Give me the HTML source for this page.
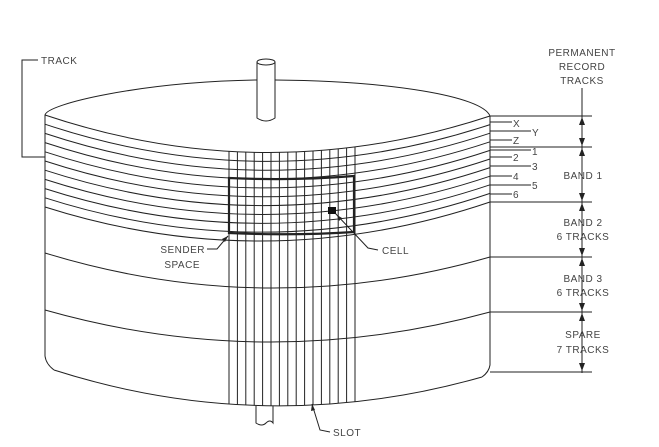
<!DOCTYPE html>
<html><head><meta charset="utf-8"><style>
html,body{margin:0;padding:0;background:#fff;}
svg{display:block;}
text{font-family:"Liberation Sans",sans-serif;font-size:10px;fill:#444;letter-spacing:0.5px;}
</style></head><body>
<svg width="659" height="447" viewBox="0 0 659 447" xmlns="http://www.w3.org/2000/svg">
<defs>
<clipPath id="front"><path d="M45,115 Q267,189.5 490,116 L490,365 Q489,372 482,377 Q267,438 54,370 Q46,364 45,356 Z"/></clipPath>
</defs>
<g fill="none" stroke="#222" stroke-width="1">
<path d="M45,115 C47,104 140,82 257,80 M275,80 C390,81 482,96 490,116"/>
<path d="M45,115 L45,356 Q46,364 54,370"/>
<path d="M490,116 L490,365 Q489,372 482,377"/>
<path d="M54,370 Q267,438 482,377"/>
<path d="M45,115 Q267,189.5 490,116"/>
<path d="M45,124.2 Q267,198.3 490,124.6"/>
<path d="M45,133.4 Q267,207.1 490,133.2"/>
<path d="M45,142.6 Q267,215.9 490,141.8"/>
<path d="M45,151.8 Q267,224.7 490,150.4"/>
<path d="M45,161 Q267,233.5 490,159"/>
<path d="M45,170.2 Q267,242.3 490,167.6"/>
<path d="M45,179.4 Q267,251.1 490,176.2"/>
<path d="M45,188.6 Q267,259.9 490,184.8"/>
<path d="M45,197.8 Q267,268.7 490,193.4"/>
<path d="M45,207 Q267,277.5 490,202"/>
<path d="M45,253 Q267,321 490,257"/>
<path d="M45,310 Q267,373 490,312"/>
<g clip-path="url(#front)">
<path d="M229,140V420 M237.4,140V420 M245.8,140V420 M254.2,140V420 M262.6,140V420 M271,140V420 M279.4,140V420 M287.8,140V420 M296.2,140V420 M304.6,140V420 M313,140V420 M321.4,140V420 M329.8,140V420 M338.2,140V420 M346.6,140V420 M355,140V420"/>
</g>
<path d="M229,178 Q292,181 354,176 L354,232 Q292,236 229,233 Z" stroke-width="2.2"/>
<path d="M257,62 L257,118 Q266,124 275,118 L275,62" fill="#fff"/>
<ellipse cx="266" cy="62" rx="9" ry="3" fill="#fff"/>
<path d="M256,406 L256,423 Q262,427 266,423 Q270,419 273,423 L273,406"/>
<path d="M38,60 H22 V157 H45"/>
<path d="M490,122H512 M490,131H531 M490,140H512 M490,150H531 M490,157H512 M490,166H531 M490,176H512 M490,185H531 M490,194H512"/>
<path d="M490,116H592 M490,147H592 M490,202H592 M490,257H592 M490,312H592 M490,372H592"/>
<path d="M582,88V373"/>
<path d="M207,249 L217,249 L228,236"/>
<path d="M335,213 L368,248 L378,250"/>
<path d="M312,404 L320,430 L330,432"/>
</g>
<rect x="328" y="207" width="8" height="7" fill="#111"/>
<g fill="#222">
<path d="M582,117 l-3,8 h6z M582,146 l-3,-8 h6z M582,148 l-3,8 h6z M582,201 l-3,-8 h6z M582,203 l-3,8 h6z M582,256 l-3,-8 h6z M582,258 l-3,8 h6z M582,311 l-3,-8 h6z M582,313 l-3,8 h6z M582,371 l-3,-8 h6z"/>
<path d="M228,236 l-6,3 l3,3z"/>
<path d="M337,215 l2,6 l3,-3z"/>
<path d="M312,404 l-1,7 l4,-1z"/>
</g>
<text x="41" y="64">TRACK</text>
<text x="582" y="56" text-anchor="middle">PERMANENT</text>
<text x="582" y="70" text-anchor="middle">RECORD</text>
<text x="582" y="84" text-anchor="middle">TRACKS</text>
<text x="513" y="127">X</text>
<text x="532" y="136">Y</text>
<text x="513" y="144">Z</text>
<text x="532" y="155">1</text>
<text x="513" y="161">2</text>
<text x="532" y="170">3</text>
<text x="513" y="180">4</text>
<text x="532" y="189">5</text>
<text x="513" y="198">6</text>
<text x="583" y="179" text-anchor="middle">BAND 1</text>
<text x="583" y="226" text-anchor="middle">BAND 2</text>
<text x="583" y="240" text-anchor="middle">6 TRACKS</text>
<text x="583" y="282" text-anchor="middle">BAND 3</text>
<text x="583" y="296" text-anchor="middle">6 TRACKS</text>
<text x="583" y="338" text-anchor="middle">SPARE</text>
<text x="583" y="353" text-anchor="middle">7 TRACKS</text>
<text x="205" y="253" text-anchor="end">SENDER</text>
<text x="200" y="268" text-anchor="end">SPACE</text>
<text x="382" y="254">CELL</text>
<text x="333" y="436">SLOT</text>
</svg>
</body></html>
